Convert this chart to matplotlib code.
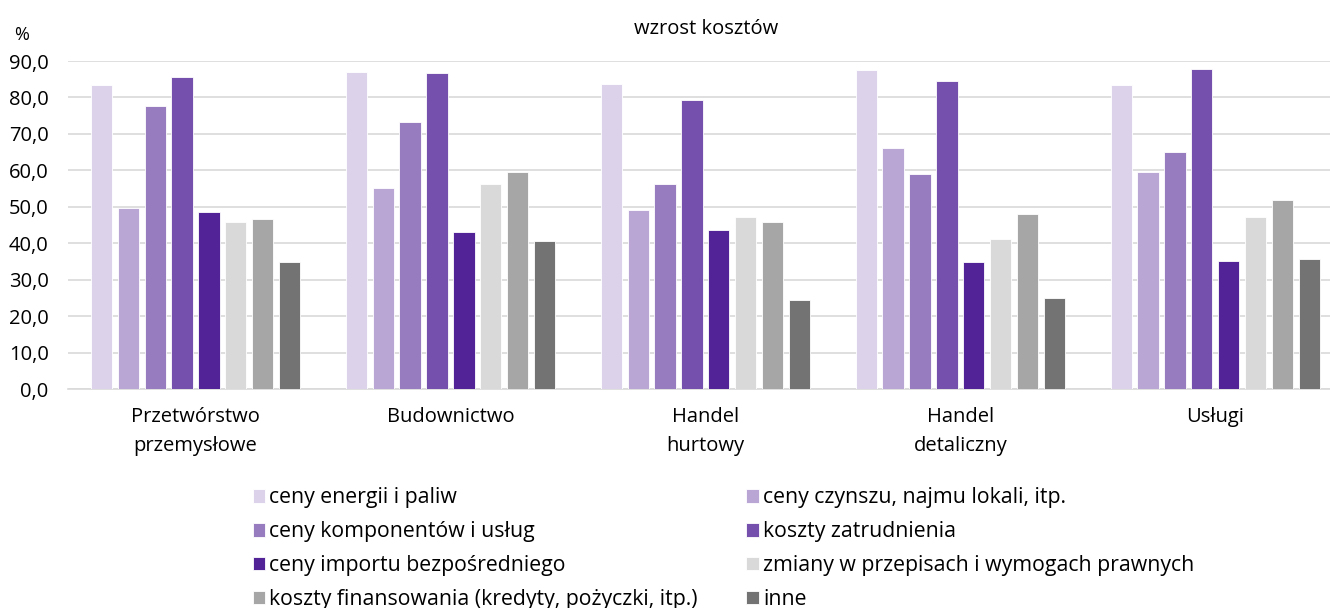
import numpy as np
import matplotlib.pyplot as plt
from matplotlib.ticker import FuncFormatter

plt.rcParams['font.family'] = ['Open Sans', 'DejaVu Sans']

categories = ['Przetwórstwo\nprzemysłowe', 'Budownictwo', 'Handel\nhurtowy',
              'Handel\ndetaliczny', 'Usługi']
series_names = ['ceny energii i paliw',
                'ceny czynszu, najmu lokali, itp.',
                'ceny komponentów i usług',
                'koszty zatrudnienia',
                'ceny importu bezpośredniego',
                'zmiany w przepisach i wymogach prawnych',
                'koszty finansowania (kredyty, pożyczki, itp.)',
                'inne']
energia = [83.4, 87.0, 83.8, 87.5, 83.4]
czynsz = [49.7, 55.2, 49.0, 66.0, 59.5]
komponenty = [77.6, 73.3, 56.2, 58.9, 65.0]
zatrudnienie = [85.6, 86.7, 79.2, 84.5, 87.8]
import_bezp = [48.6, 43.0, 43.6, 34.9, 35.1]
przepisy = [45.8, 56.2, 47.2, 41.2, 47.2]
finansowanie = [46.7, 59.5, 45.7, 47.9, 51.9]
inne = [34.9, 40.6, 24.4, 24.9, 35.6]
yticks = np.arange(0, 91, 10)

series = [energia, czynsz, komponenty, zatrudnienie,
          import_bezp, przepisy, finansowanie, inne]
colors = ['#DCD3EA', '#B9A6D5', '#977CC0', '#7551AD',
          '#522297', '#D9D9D9', '#A6A6A6', '#737373']

fig = plt.figure(figsize=(13.3, 6.08), dpi=100)
ax = fig.add_axes([68 / 1330, 1 - 389 / 608, 1 - 68 / 1330, 328 / 608])

x = np.arange(len(categories))
step = 0.1054
width = 0.0836
handles = []
for i, (vals, col) in enumerate(zip(series, colors)):
    b = ax.bar(x + (i - 3.5) * step, vals, width, color=col,
               edgecolor='white', linewidth=0.6, zorder=3,
               label=series_names[i])
    handles.append(b)

ax.set_xlim(-0.5, 4.45)
ax.set_ylim(0, 90)
ax.set_yticks(yticks)
ax.yaxis.set_major_formatter(FuncFormatter(lambda v, p: f'{v:.1f}'.replace('.', ',')))
ax.set_xticks(x)
ax.set_xticklabels(categories, linespacing=1.6)
ax.grid(True, axis='y', color='#D9D9D9', linewidth=1.2, zorder=0)
for s in ['top', 'right', 'left']:
    ax.spines[s].set_visible(False)
ax.spines['bottom'].set_color('#D9D9D9')
ax.spines['bottom'].set_linewidth(1.2)
ax.tick_params(axis='y', length=0, pad=14, labelsize=14.5, labelcolor='#000000')
ax.tick_params(axis='x', length=0, pad=13, labelsize=14.5)

fig.text(706 / 1330, 1 - 29 / 608, 'wzrost kosztów', ha='center', va='center', fontsize=14.5)
fig.text(22 / 1330, 1 - 35 / 608, '%', ha='center', va='center', fontsize=13)

order = [0, 2, 4, 6, 1, 3, 5, 7]
fig.legend([handles[i] for i in order], [series_names[i] for i in order],
           ncol=2, loc='upper left', bbox_to_anchor=(244 / 1330, 1 - 479 / 608),
           frameon=False, fontsize=15.3, handlelength=0.6, handleheight=0.6,
           handletextpad=0.18, columnspacing=2.3, labelspacing=0.6,
           borderaxespad=0)

fig.savefig('out.png', dpi=100, facecolor='white')
